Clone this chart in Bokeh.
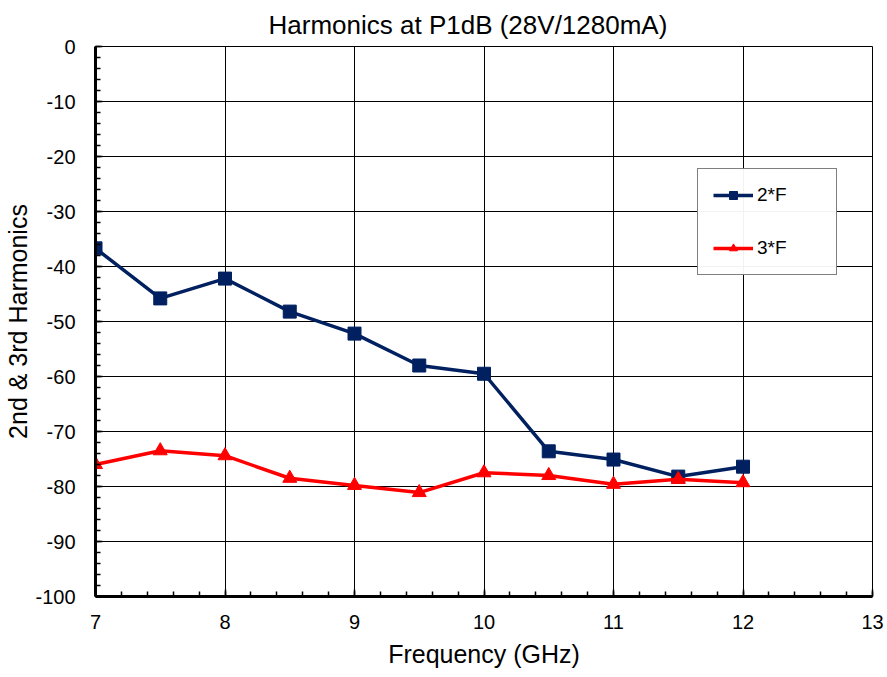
import numpy as np
from bokeh.plotting import figure
from bokeh.models import Legend, LegendItem, FixedTicker, Range1d
from bokeh.embed import file_html
from bokeh.resources import INLINE

freq = [7, 7.5, 8, 8.5, 9, 9.5, 10, 10.5, 11, 11.5, 12]
h2 = [-36.7, -45.8, -42.2, -48.2, -52.2, -58.0, -59.5, -73.6, -75.1, -78.2, -76.4]
h3 = [-76.0, -73.5, -74.4, -78.5, -79.8, -81.1, -77.5, -78.0, -79.6, -78.7, -79.3]
x_ticks = [7, 8, 9, 10, 11, 12, 13]
y_ticks = [0, -10, -20, -30, -40, -50, -60, -70, -80, -90, -100]

FONT = "Liberation Sans"
NAVY = "#002060"
RED = "#ff0000"

p = figure(width=887, height=677, output_backend="svg", toolbar_location=None,
           x_range=Range1d(7, 13), y_range=Range1d(-100, 0),
           min_border_left=95, min_border_right=15, min_border_top=46, min_border_bottom=81)

p.title.text = "Harmonics at P1dB (28V/1280mA)"
p.title.align = "left"
p.title.text_font = FONT
p.title.text_font_size = "26px"
p.title.text_font_style = "normal"
p.title.text_color = "black"
p.title.offset = 173
p.title.standoff = 14

p.outline_line_color = "black"
p.outline_line_width = 1

for ax in (p.xaxis, p.yaxis):
    ax.axis_line_width = 3
    ax.axis_line_color = "black"
    ax.major_tick_in = 7
    ax.major_tick_out = 0
    ax.minor_tick_in = 5
    ax.minor_tick_out = 0
    ax.major_tick_line_width = 1.5
    ax.minor_tick_line_width = 1.5
    ax.major_tick_line_color = "black"
    ax.minor_tick_line_color = "black"
    ax.major_label_text_font = FONT
    ax.major_label_text_font_size = "20px"
    ax.major_label_text_color = "black"
    ax.axis_label_text_font = FONT
    ax.axis_label_text_font_size = "25px"
    ax.axis_label_text_font_style = "normal"
    ax.axis_label_text_color = "black"

p.xaxis.ticker = FixedTicker(ticks=x_ticks, minor_ticks=[round(v, 1) for v in np.arange(7, 13.01, 0.2)])
p.yaxis.ticker = FixedTicker(ticks=y_ticks, minor_ticks=list(range(-100, 1, 2)))
p.yaxis.major_label_overrides = {t: str(t) for t in y_ticks}
p.xaxis.axis_label = "Frequency (GHz)"
p.yaxis.axis_label = "2nd & 3rd Harmonics"
p.xaxis.major_label_standoff = 18
p.yaxis.major_label_standoff = 20
p.xaxis.axis_label_standoff = 8
p.yaxis.axis_label_standoff = 0

p.xgrid.grid_line_color = "black"
p.ygrid.grid_line_color = "black"
p.xgrid.grid_line_width = 1
p.ygrid.grid_line_width = 1
p.xgrid.ticker = FixedTicker(ticks=x_ticks)
p.ygrid.ticker = FixedTicker(ticks=y_ticks)

l2 = p.line(freq, h2, line_color=NAVY, line_width=3.5)
s2 = p.scatter(freq, h2, marker="square", size=13, fill_color=NAVY, line_color=NAVY)
l3 = p.line(freq, h3, line_color=RED, line_width=3.5)
s3 = p.scatter(freq, h3, marker="triangle", size=14, fill_color=RED, line_color=RED)

legend = Legend(items=[LegendItem(label="2*F", renderers=[l2, s2]),
                       LegendItem(label="3*F", renderers=[l3, s3])],
                location=(602, 321))
legend.border_line_color = "black"
legend.border_line_width = 1
legend.label_text_font = FONT
legend.label_text_font_size = "19px"
legend.label_text_color = "black"
legend.glyph_width = 40
legend.glyph_height = 20
legend.label_height = 20
legend.spacing = 31
legend.padding = 15
legend.margin = 0
legend.label_standoff = 4
legend.label_width = 64
p.add_layout(legend, "center")

open("out.html", "w").write(file_html(p, INLINE))
